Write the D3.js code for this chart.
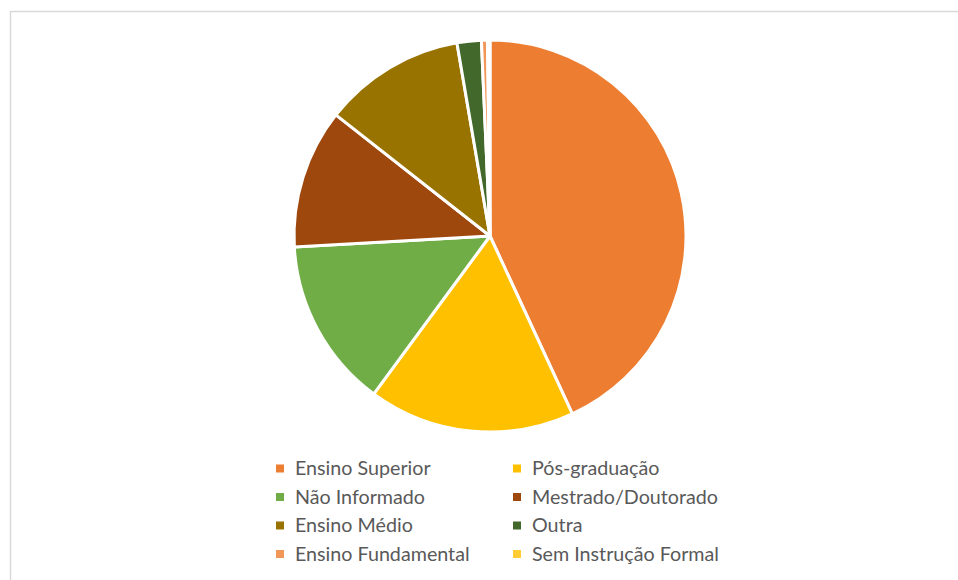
<!doctype html>
<html>
<head>
<meta charset="utf-8">
<script src="https://d3js.org/d3.v7.min.js"></script>
<style>
  body { margin: 0; background: #fff; }
  svg { display: block; }
</style>
</head>
<body>
<svg width="958" height="580"></svg>
<script>
  var categories = ["Ensino Superior", "Pós-graduação", "Não Informado", "Mestrado/Doutorado",
                    "Ensino Médio", "Outra", "Ensino Fundamental", "Sem Instrução Formal"];
  var values = [43.1, 17.0, 14.0, 11.5, 11.7, 2.0, 0.5, 0.2];
  var colors = ["#ED7D31", "#FFC000", "#70AD47", "#9E480E", "#997300", "#43682B", "#F1975A", "#FFCD33"];

  var data = categories.map((c, i) => ({ name: c, value: values[i], color: colors[i] }));

  var svg = d3.select("svg");

  // chart frame
  svg.append("rect")
    .attr("x", 10.5).attr("y", 11.5)
    .attr("width", 960).attr("height", 580)
    .attr("fill", "none")
    .attr("stroke", "#d9d9d9")
    .attr("stroke-width", 1.5);

  var cx = 490, cy = 236, r = 196;

  var pie = d3.pie().sort(null).value(d => d.value);
  var arc = d3.arc().innerRadius(0).outerRadius(r);

  svg.append("g")
      .attr("transform", `translate(${cx},${cy})`)
    .selectAll("path")
    .data(pie(data)).enter()
    .append("path")
      .attr("d", arc)
      .attr("fill", d => d.data.color)
      .attr("stroke", "#fff")
      .attr("stroke-width", 3)
      .attr("stroke-linejoin", "round");

  // legend, two columns
  var legend = svg.append("g").selectAll("g")
    .data(data).enter()
    .append("g")
      .attr("transform", (d, i) => `translate(${i % 2 ? 513 : 276}, ${468.5 + Math.floor(i / 2) * 28.5})`);

  legend.append("rect")
    .attr("x", 0).attr("y", -4)
    .attr("width", 8).attr("height", 8)
    .attr("fill", d => d.color);

  legend.append("text")
    .attr("x", 19).attr("y", 0)
    .attr("dy", "0.35em")
    .style("font-family", "Lato, 'Open Sans', sans-serif")
    .style("font-size", "19.7px")
    .style("fill", "#595959")
    .text(d => d.name);
</script>
</body>
</html>
